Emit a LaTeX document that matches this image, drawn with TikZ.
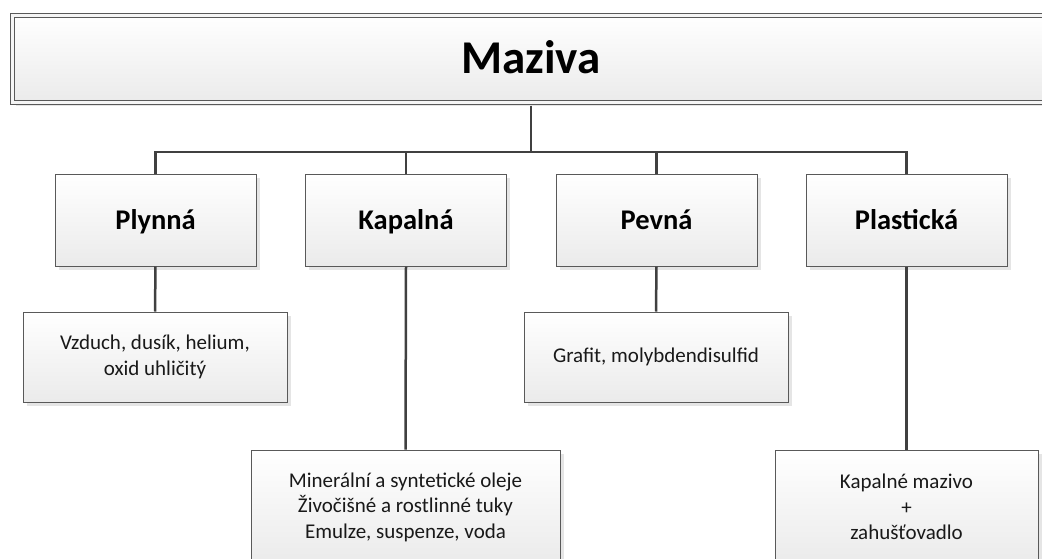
\documentclass[tikz,border=0pt]{standalone}
\usepackage{fontspec}
\setmainfont{Carlito}
\usetikzlibrary{shapes,arrows,shadows}

\begin{document}
\begin{tikzpicture}[x=1pt,y=-1pt,draw=black!75]
	\def \rowzeroht{59}
	\def \rowoneht{220}
	\def \rowtwoht{357}
	\def \rowthreeht{507}
	\tikzstyle{box}=[rectangle,draw=black!65,line width=1pt,top color=white,bottom color=black!8,drop shadow={shadow xshift=3.5pt,shadow yshift=-3.5pt,fill=black!10,opacity=1},inner sep=0pt]
	\tikzstyle{head-node}=[box,double=black!4,double distance=3pt,minimum width=1037pt,minimum height=87pt,font=\fontsize{47}{56}\selectfont\bfseries,text height=30pt,text depth=2pt]
	\tikzstyle{kind-node}=[box,minimum width=201pt,minimum height=92pt,font=\fontsize{28.5}{34}\selectfont\bfseries,text height=19pt,text depth=0pt]
	\tikzstyle{item-node}=[box,align=flush center,text width=300pt,text=black!90,font=\fontsize{21}{25}\selectfont,execute at begin node={\setlength{\baselineskip}{25.5pt}}]
	\tikzstyle{link}=[draw=black!75,line width=2.5pt]
	\useasboundingbox[fill=white] (0,0) rectangle (1042,558);
	% head
	\node[head-node] (maziva) at (531,\rowzeroht) {Maziva};
	% kinds
	\node[kind-node] (plynna)    at (155.5,\rowoneht) {Plynná};
	\node[kind-node] (kapalna)   at (406,\rowoneht)   {Kapalná};
	\node[kind-node] (pevna)     at (656.5,\rowoneht) {Pevná};
	\node[kind-node] (plasticka) at (906.5,\rowoneht) {Plastická};
	% items
	\node[item-node,text width=250pt,minimum width=264pt,minimum height=90pt] (plynna-i) at (155,\rowtwoht) {Vzduch, dusík, helium,\\oxid uhličitý};
	\node[item-node,text width=250pt,minimum width=264pt,minimum height=90pt] (pevna-i) at (656,\rowtwoht) {Grafit, molybdendisulfid};
	\node[item-node,text width=300pt,minimum width=309pt,minimum height=114pt] (kapalna-i) at (405.5,\rowthreeht) {Minerální a syntetické oleje\\Živočišné a rostlinné tuky\\Emulze, suspenze, voda};
	\node[item-node,text width=250pt,minimum width=263pt,minimum height=114pt] (plasticka-i) at (906.5,\rowthreeht) {Kapalné mazivo\\+\\zahušťovadlo};
	% links
	\coordinate (fork) at (531,152);
	\draw[link] ([yshift=-2.5pt]maziva.south) -- (fork);
	\draw[link] (fork) -| (plynna.north);
	\draw[link] (fork) -| (kapalna.north);
	\draw[link] (fork) -| (pevna.north);
	\draw[link] (fork) -| (plasticka.north);
	\draw[link] (plynna.south) -- (plynna-i.north);
	\draw[link] (kapalna.south) -- (kapalna-i.north);
	\draw[link] (pevna.south) -- (pevna-i.north);
	\draw[link] (plasticka.south) -- (plasticka-i.north);
\end{tikzpicture}
\end{document}
